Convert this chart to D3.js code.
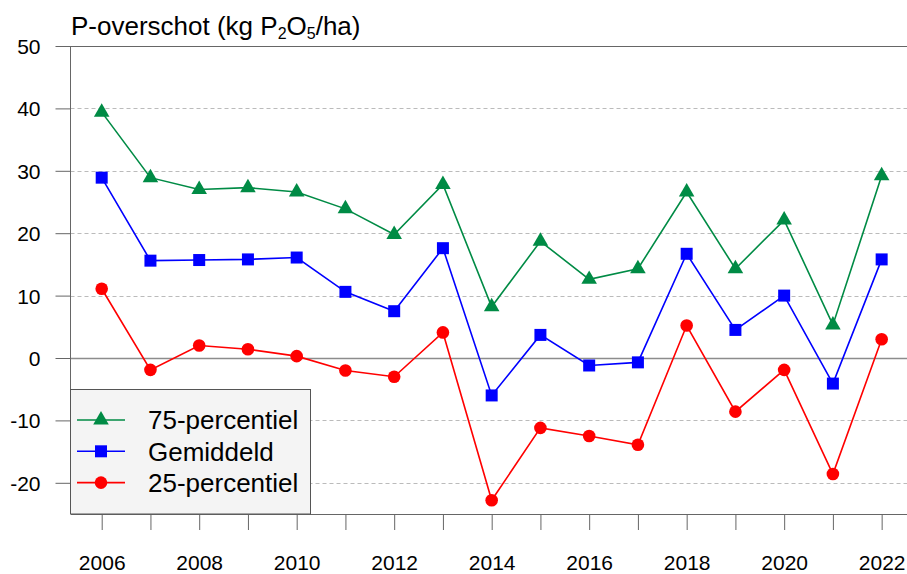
<!DOCTYPE html>
<html>
<head>
<meta charset="utf-8">
<script src="https://cdn.jsdelivr.net/npm/d3@7"></script>
<style>
  body { margin: 0; background: #fff; }
  svg { font-family: "Liberation Sans", Arial, sans-serif; }
</style>
</head>
<body>
<div id="chart"></div>
<script>
// Data
const years = [2006, 2007, 2008, 2009, 2010, 2011, 2012, 2013, 2014, 2015, 2016, 2017, 2018, 2019, 2020, 2021, 2022];
const p75 = [39.4, 28.9, 27.0, 27.3, 26.6, 23.9, 19.8, 27.8, 8.2, 18.7, 12.6, 14.3, 26.6, 14.3, 22.1, 5.3, 29.2];
const mean = [28.9, 15.6, 15.7, 15.8, 16.1, 10.6, 7.5, 17.6, -6.0, 3.7, -1.2, -0.7, 16.7, 4.5, 10.0, -4.1, 15.8];
const p25 = [11.1, -1.9, 2.0, 1.4, 0.3, -2.0, -3.0, 4.1, -22.8, -11.2, -12.5, -13.9, 5.2, -8.6, -1.9, -18.6, 3.0];
const yTicks = [-20, -10, 0, 10, 20, 30, 40, 50];
const xLabelYears = [2006, 2008, 2010, 2012, 2014, 2016, 2018, 2020, 2022];

const series = [
  {name: "75-percentiel", values: p75, color: "#008B45", shape: "triangle"},
  {name: "Gemiddeld", values: mean, color: "#0000FF", shape: "square"},
  {name: "25-percentiel", values: p25, color: "#FF0000", shape: "circle"}
];

const W = 907, H = 574;
const margin = {top: 46, right: 0, bottom: 60, left: 70.5};

const svg = d3.select("#chart").append("svg")
  .attr("width", W)
  .attr("height", H);

const x = d3.scaleLinear()
  .domain([2005.36, 2022.52])
  .range([margin.left, W - margin.right]);

const y = d3.scaleLinear()
  .domain([-25, 50])
  .range([514, 46]);

// Grid lines
svg.append("g")
  .selectAll("line")
  .data(yTicks)
  .join("line")
  .attr("x1", margin.left)
  .attr("x2", W)
  .attr("y1", d => Math.round(y(d)) + 0.5)
  .attr("y2", d => Math.round(y(d)) + 0.5)
  .attr("stroke", d => d === 0 ? "#8c8c8c" : (d === 50 ? "#666" : "#bbb"))
  .attr("stroke-width", d => d === 0 ? 1.5 : 1)
  .attr("stroke-dasharray", d => (d === 0 || d === 50) ? null : "4,3");

// Y axis
const yAxis = svg.append("g")
  .attr("transform", `translate(${margin.left},0)`)
  .call(d3.axisLeft(y).tickValues(yTicks).tickSize(15).tickPadding(15).tickSizeOuter(0)
    .tickFormat(d => String(d)));
yAxis.select(".domain").attr("stroke", "#666").attr("d", `M0,${y(50)}V${y(-25)}`);
yAxis.selectAll(".tick line").attr("stroke", "#666");
yAxis.selectAll(".tick text")
  .attr("font-size", 21)
  .attr("fill", "#000")
  .attr("dy", "0.36em");

// X axis
const xAxis = svg.append("g")
  .attr("transform", `translate(0,${y(-25)})`)
  .call(d3.axisBottom(x).tickValues(years).tickSize(16).tickSizeOuter(0)
    .tickFormat(d => xLabelYears.includes(d) ? d : ""));
xAxis.select(".domain").attr("stroke", "#666");
xAxis.selectAll(".tick line").attr("stroke", "#666");
xAxis.selectAll(".tick text")
  .attr("font-size", 21)
  .attr("fill", "#000")
  .attr("y", 56)
  .attr("dy", 0);
xAxis.attr("font-family", null);
yAxis.attr("font-family", null);

// Title
const title = svg.append("text")
  .attr("x", 71)
  .attr("y", 35)
  .attr("font-size", 26)
  .attr("fill", "#000");
title.append("tspan").text("P-overschot (kg P");
title.append("tspan").attr("font-size", 16).attr("dy", 4).text("2");
title.append("tspan").attr("dy", -4).text("O");
title.append("tspan").attr("font-size", 16).attr("dy", 4).text("5");
title.append("tspan").attr("dy", -4).text("/ha)");

function symbolFor(shape) {
  if (shape === "triangle") return d3.symbol(d3.symbolTriangle, 105)();
  if (shape === "square") return d3.symbol(d3.symbolSquare, 144)();
  return d3.symbol(d3.symbolCircle, 125)();
}

const line = d3.line()
  .x((d, i) => x(years[i]))
  .y(d => y(d));

series.forEach(s => {
  svg.append("path")
    .datum(s.values)
    .attr("fill", "none")
    .attr("stroke", s.color)
    .attr("stroke-width", 1.6)
    .attr("d", line);

  svg.append("g")
    .selectAll("path")
    .data(s.values)
    .join("path")
    .attr("transform", (d, i) => `translate(${x(years[i])},${y(d)})`)
    .attr("d", symbolFor(s.shape))
    .attr("fill", s.color);
});

// Legend
const legend = svg.append("g");
legend.append("rect")
  .attr("x", 70.5)
  .attr("y", 389.5)
  .attr("width", 240)
  .attr("height", 124.5)
  .attr("fill", "#f4f4f4")
  .attr("stroke", "#555")
  .attr("stroke-width", 1);

series.forEach((s, i) => {
  const ly = 420 + i * 31.3;
  legend.append("line")
    .attr("x1", 77).attr("x2", 125)
    .attr("y1", ly).attr("y2", ly)
    .attr("stroke", s.color)
    .attr("stroke-width", 1.6);
  legend.append("path")
    .attr("transform", `translate(101,${ly})`)
    .attr("d", symbolFor(s.shape))
    .attr("fill", s.color);
  legend.append("text")
    .attr("x", 148)
    .attr("y", ly)
    .attr("dy", "0.36em")
    .attr("font-size", 26)
    .attr("fill", "#000")
    .text(s.name);
});
</script>
</body>
</html>
